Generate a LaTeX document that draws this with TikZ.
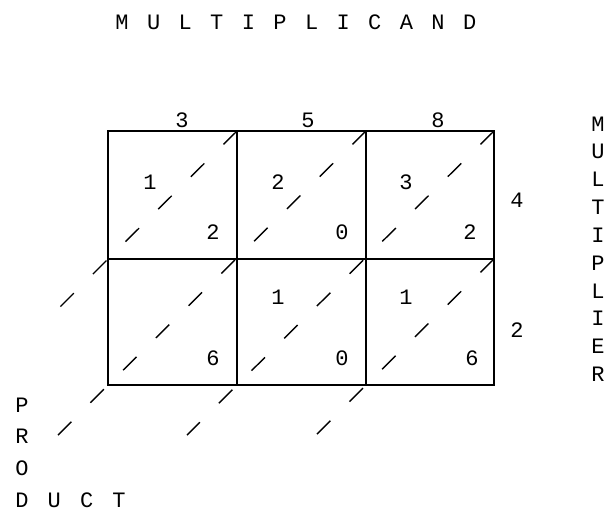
\documentclass[tikz,border=0pt]{standalone}
\usepackage{fontspec}
\setmainfont{Liberation Mono}
\begin{document}
\begin{tikzpicture}[x=0.5pt,y=-0.5pt,
    every node/.style={font=\fontsize{11}{13}\selectfont,inner sep=0pt},
    rule/.style={draw,line width=0.75pt},
    diag/.style={draw,line width=0.7pt,dash pattern=on 9.5pt off 13.5pt}]
  \useasboundingbox (0,0) rectangle (608,514);
  \def \Corners{
    a/108/131, b/237/131, c/366/131, d/494/131,
    e/108/259, f/237/259, g/366/259, h/494/259,
    i/108/385, j/237/385, k/366/385, l/494/385}
  \def \Digits{
    p1/150/182/1, q1/213/232/2,
    p2/278/182/2, q2/342/232/0,
    p3/406/182/3, q3/470/232/2,
    q4/213/358/6,
    p5/278/297/1, q5/342/358/0,
    p6/406/297/1, q6/472/358/6,
    m1/182/120/3, m2/308/120/5, m3/438/120/8,
    r1/517/200/4, r2/517/330/2}
  \foreach \id / \x / \y in \Corners{
    \coordinate (\id) at (\x, \y);
  }
  % the lattice
  \path[rule] (a) rectangle (l);
  \path[rule] (e) -- (h);
  \path[rule] (b) -- (j);
  \path[rule] (c) -- (k);
  % diagonals, run out past the grid
  \path[diag] (b) -- (e) -- ++(-50,50);
  \path[diag] (c) -- (i) -- ++(-50,50);
  \path[diag] (d) -- (j) -- ++(-50,50);
  \path[diag] (h) -- (k) -- ++(-50,50);
  \foreach \id / \x / \y / \lb in \Digits{
    \node (\id) at (\x, \y) {\lb};
  }
  % captions
  \foreach \lb [count=\n] in {M,U,L,T,I,P,L,I,C,A,N,D}{
    \node (cand\n) at ({122+31.6*(\n-1)}, 22) {\lb};
  }
  \foreach \lb [count=\n] in {M,U,L,T,I,P,L,I,E,R}{
    \node (plier\n) at (598, {124+27.8*(\n-1)}) {\lb};
  }
  \foreach \lb [count=\n] in {P,R,O}{
    \node (prod\n) at (22, {405+31.5*(\n-1)}) {\lb};
  }
  \foreach \lb [count=\n] in {D,U,C,T}{
    \node (uct\n) at ({22+32.3*(\n-1)}, 500) {\lb};
  }
\end{tikzpicture}
\end{document}
